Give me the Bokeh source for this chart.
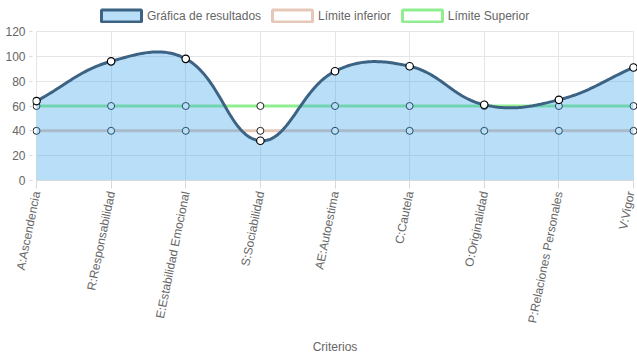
import numpy as np
from bokeh.plotting import figure
from bokeh.models import Range1d, Legend, LegendItem, FixedTicker
from bokeh.embed import file_html
from bokeh.resources import INLINE

categories = ["A:Ascendencia", "R:Responsabilidad", "E:Estabilidad Emocional", "S:Sociabilidad",
              "AE:Autoestima", "C:Cautela", "O:Originalidad", "P:Relaciones Personales", "V:Vigor"]
resultados = [64, 96, 98, 32, 88, 92, 61, 65, 91]
limite_inferior = [40, 40, 40, 40, 40, 40, 40, 40, 40]
limite_superior = [60, 60, 60, 60, 60, 60, 60, 60, 60]
y_ticks = [0, 20, 40, 60, 80, 100, 120]

FONT = "Liberation Sans"
TXT = "#666666"
GRID = "#e5e5e5"
RES_LINE = "#3d6384"
RES_FILL = (54, 162, 235)
FILL_ALPHA = 0.35
INF_COL = "#e6c8b9"
SUP_COL = "#90ee90"

W, H = 637, 359
n = len(categories)
PAD = 0.0536
YMAX = 120 + 31 / (149 / 120)
p = figure(width=W, height=H, output_backend="svg", toolbar_location=None,
           x_range=Range1d(-PAD, n - 1 + PAD), y_range=Range1d(0, YMAX),
           min_border_left=32, min_border_right=0, min_border_top=0, min_border_bottom=179)
p.outline_line_color = None
p.background_fill_color = "white"

x = np.arange(n, dtype=float)

# Chart.js-like spline (tension 0.4) computed in pixel-proportional space
sx, sy = 74.6, 1.242
def spline(xs, ys, t=0.4, n=40):
    px = np.array(xs) * sx
    py = np.array(ys, dtype=float) * sy
    cps = []
    m = len(px)
    for i in range(m):
        pi_ = max(i - 1, 0); ni = min(i + 1, m - 1)
        d01 = np.hypot(px[i] - px[pi_], py[i] - py[pi_])
        d12 = np.hypot(px[ni] - px[i], py[ni] - py[i])
        tot = d01 + d12
        s01 = d01 / tot if tot else 0
        s12 = d12 / tot if tot else 0
        fa, fb = t * s01, t * s12
        prev_c = (px[i] - fa * (px[ni] - px[pi_]), py[i] - fa * (py[ni] - py[pi_]))
        next_c = (px[i] + fb * (px[ni] - px[pi_]), py[i] + fb * (py[ni] - py[pi_]))
        cps.append((prev_c, next_c))
    ox, oy = [], []
    tt = np.linspace(0, 1, n)
    for i in range(m - 1):
        p0 = np.array([px[i], py[i]]); p3 = np.array([px[i + 1], py[i + 1]])
        p1 = np.array(cps[i][1]); p2 = np.array(cps[i + 1][0])
        seg = ((1 - tt) ** 3)[:, None] * p0 + (3 * (1 - tt) ** 2 * tt)[:, None] * p1 \
            + (3 * (1 - tt) * tt ** 2)[:, None] * p2 + (tt ** 3)[:, None] * p3
        if i > 0:
            seg = seg[1:]
        ox.extend(seg[:, 0]); oy.extend(seg[:, 1])
    return np.array(ox) / sx, np.array(oy) / sy

cx, cy = spline(x, resultados)

# grid
p.xgrid.ticker = FixedTicker(ticks=list(range(n)))
p.xgrid.grid_line_color = GRID
p.xgrid.cross_bounds = (0, 120)
p.ygrid.ticker = FixedTicker(ticks=y_ticks)
p.ygrid.grid_line_color = GRID
p.ygrid.cross_bounds = (0, n - 1)

# limit lines (drawn first, under fill)
p.line(x, limite_inferior, line_color=INF_COL, line_width=3)
p.line(x, limite_superior, line_color=SUP_COL, line_width=3)
p.scatter(x, limite_inferior, size=7, fill_color="white", line_color="#222222", line_width=1)
p.scatter(x, limite_superior, size=7, fill_color="white", line_color="#222222", line_width=1)

# result fill and line
p.varea(x=cx, y1=np.zeros_like(cy), y2=cy, fill_color=RES_FILL, fill_alpha=FILL_ALPHA)
p.line(cx, cy, line_color=RES_LINE, line_width=3)
p.scatter(x, resultados, size=7.5, fill_color="white", line_color="black", line_width=1.2)

# legend dummy renderers
nan = [np.nan]
r1 = p.quad(left=nan, right=nan, top=nan, bottom=nan, fill_color=RES_FILL, fill_alpha=FILL_ALPHA,
            line_color=RES_LINE, line_width=3)
r2 = p.quad(left=nan, right=nan, top=nan, bottom=nan, fill_color="white",
            line_color=INF_COL, line_width=3)
r3 = p.quad(left=nan, right=nan, top=nan, bottom=nan, fill_color="white",
            line_color=SUP_COL, line_width=3)
legend = Legend(items=[LegendItem(label="Gráfica de resultados", renderers=[r1]),
                       LegendItem(label="Límite inferior", renderers=[r2]),
                       LegendItem(label="Límite Superior", renderers=[r3])],
                orientation="horizontal", location=(64, 157),
                glyph_width=50, glyph_height=15, spacing=6, padding=0, margin=0,
                label_standoff=1, label_text_font=FONT, label_text_font_size="12px",
                label_text_color=TXT, border_line_alpha=0, background_fill_alpha=0,
                label_height=12)
p.add_layout(legend)

# axes
p.xaxis.ticker = FixedTicker(ticks=list(range(n)))
p.xaxis.bounds = (0, n - 1)
p.xaxis.major_label_overrides = {i: c for i, c in enumerate(categories)}
p.xaxis.major_label_orientation = 1.37
p.xaxis.major_tick_out = 8
p.xaxis.major_tick_in = 0
p.xaxis.minor_tick_line_color = None
p.xaxis.major_label_standoff = 3
p.xaxis.axis_label = "Criterios"
p.xaxis.axis_label_text_font_style = "normal"
p.xaxis.axis_label_standoff = 11

p.yaxis.ticker = FixedTicker(ticks=y_ticks)
p.yaxis.bounds = (0, 120)
p.yaxis.axis_line_color = None
p.yaxis.major_tick_out = 3
p.yaxis.major_tick_in = 0
p.yaxis.minor_tick_line_color = None
p.yaxis.major_label_standoff = 4

for ax in (p.xaxis, p.yaxis):
    ax.major_tick_line_color = "#d9d9d9"
    ax.major_label_text_font = FONT
    ax.major_label_text_font_size = "12px"
    ax.major_label_text_color = TXT
    ax.axis_label_text_font = FONT
    ax.axis_label_text_font_size = "12px"
    ax.axis_label_text_color = TXT
p.xaxis.axis_line_color = "#d9d9d9"

open("out.html", "w").write(file_html(p, INLINE))
